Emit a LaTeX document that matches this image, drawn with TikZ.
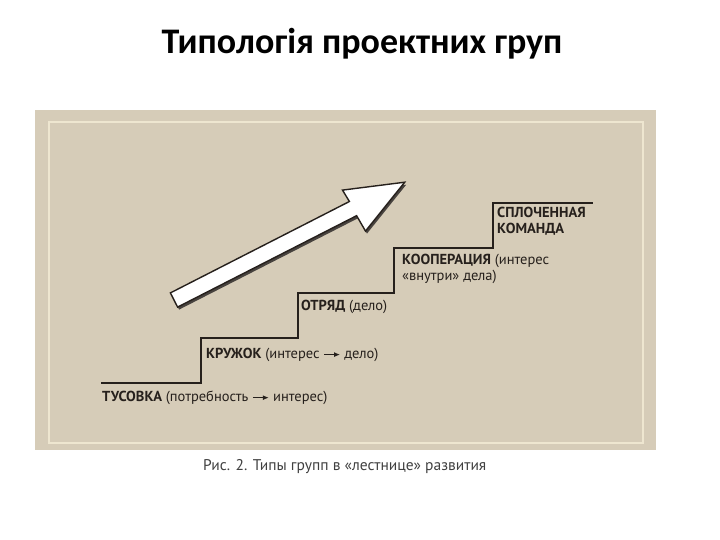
\documentclass[tikz,border=0pt]{standalone}
\usepackage{fontspec}
\setmainfont{PT Sans}
\newfontfamily\titlefont{Carlito}
\usetikzlibrary{arrows.meta, positioning, calc}

\definecolor{beige}{RGB}{214,204,184}
\definecolor{cream}{RGB}{238,230,208}
\definecolor{ink}{RGB}{38,32,28}
\newcommand{\strelka}{\tikz[baseline=-0.55ex]\draw[ink, line width=1pt, -{Latex[length=6pt,width=5pt]}] (0pt,0pt) -- (16pt,0pt);}

\begin{document}
\begin{tikzpicture}[x=1pt, y=-1pt, align=left]
    \useasboundingbox (0,0) rectangle (720,540);
    \fill[white] (0,0) rectangle (720,540);

    % title
    \node [font=\titlefont\bfseries\fontsize{36}{40}\selectfont] (titul) at (362,44) {Типологія проектних груп};

    % panel
    \fill[beige] (35,110) rectangle (656,450);
    \draw[cream, line width=1.2pt] (49,122) rectangle (643,443);

    % stairs
    \coordinate (s0) at (101,383);
    \coordinate (s1) at (201,383);
    \coordinate (s2) at (201,338);
    \coordinate (s3) at (298,338);
    \coordinate (s4) at (298,293);
    \coordinate (s5) at (394,293);
    \coordinate (s6) at (394,248);
    \coordinate (s7) at (493,248);
    \coordinate (s8) at (493,203);
    \coordinate (s9) at (593,203);
    \draw[ink, line width=2.6pt] (s0) -- (s1) -- (s2) -- (s3) -- (s4) -- (s5) -- (s6) -- (s7) -- (s8) -- (s9);

    % arrow
    \fill[ink!85] ($(170.4,292.9)+(1.5,2.5)$) -- ($(349.4,201.5)+(1.5,2.5)$) -- ($(342.5,190.1)+(1.5,2.5)$)
      -- ($(404.7,182.2)+(1.5,2.5)$) -- ($(365.5,231.1)+(1.5,2.5)$) -- ($(356.6,215.7)+(1.5,2.5)$)
      -- ($(177.6,307.1)+(1.5,2.5)$) -- cycle;
    \draw[ink, fill=white, line width=1.4pt, line join=miter] (170.4,292.9) -- (349.4,201.5) -- (342.5,190.1)
      -- (404.7,182.2) -- (365.5,231.1) -- (356.6,215.7) -- (177.6,307.1) -- cycle;

    % labels
    \node [anchor=west, inner sep=0pt, text=ink, font=\fontsize{14.5}{16}\selectfont] (tusovka) at ($(s0)+(1,15)$)
      {\textbf{ТУСОВКА} (потребность \strelka{} интерес)};
    \node [anchor=west, inner sep=0pt, text=ink, font=\fontsize{14.5}{16}\selectfont] (kruzhok) at ($(s2)+(5,17)$)
      {\textbf{КРУЖОК} (интерес \strelka{} дело)};
    \node [anchor=west, inner sep=0pt, text=ink, font=\fontsize{14.5}{16}\selectfont] (otryad) at ($(s4)+(3,14)$)
      {\textbf{ОТРЯД} (дело)};
    \node [anchor=west, inner sep=0pt, text=ink, font=\fontsize{14.5}{16}\selectfont] (kooperaciya) at ($(s6)+(8,21)$)
      {\textbf{КООПЕРАЦИЯ} (интерес\\«внутри» дела)};
    \node [anchor=west, inner sep=0pt, text=ink, font=\bfseries\fontsize{14.5}{16}\selectfont] (komanda) at ($(s8)+(4,18)$)
      {СПЛОЧЕННАЯ\\КОМАНДА};

    % caption
    \node [anchor=west, inner sep=0pt, text=black!75, font=\fontsize{15.5}{18}\selectfont] (podpis) at (203,467)
      {Рис. 2. Типы групп в «лестнице» развития};
\end{tikzpicture}
\end{document}
